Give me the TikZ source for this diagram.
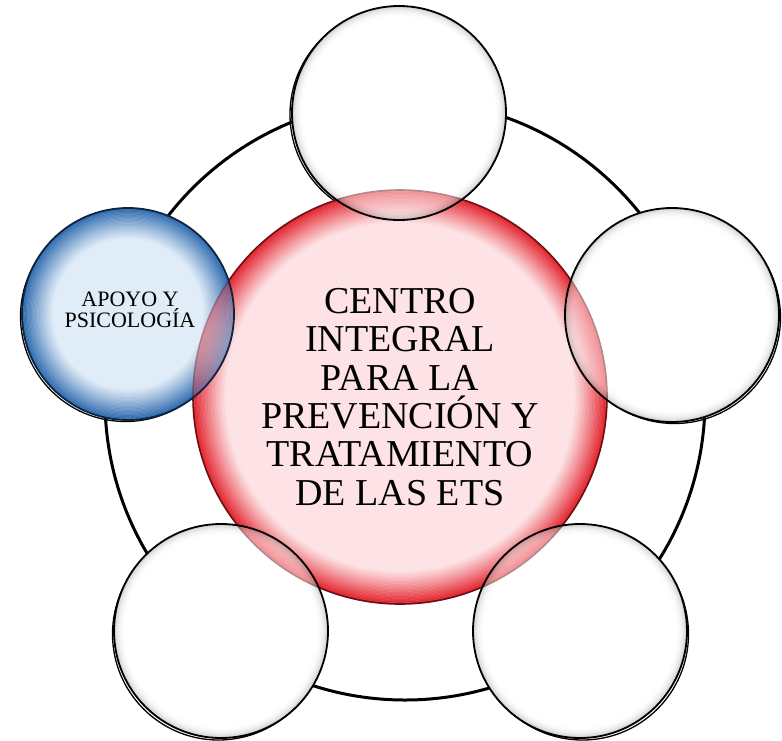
\documentclass[tikz,border=0pt]{standalone}
\usepackage{fontspec}
\setmainfont{Liberation Serif}
\definecolor{rcen}{HTML}{FDE3E5}
\definecolor{redge}{HTML}{E3222D}
\definecolor{rline}{HTML}{6A1212}
\definecolor{bcen}{HTML}{E0ECF7}
\definecolor{bedge}{HTML}{2D6AAE}
\definecolor{bline}{HTML}{0F2440}
\definecolor{wrim}{HTML}{8E8E8E}
\newcommand\drawball[6]{% #1 centre, #2 radius, #3 edge colour, #4 centre colour, #5 band, #6 exponent
  \fill[#4] (#1) circle[radius=#2];
  \foreach \i in {0,...,24} {
    \pgfmathsetmacro\rr{#2-(\i+0.5)*#5/25}
    \pgfmathsetmacro\mix{100*(1-\i/24)^#6}
    \draw[line width=#5/25*1.2, draw=#3!\mix!#4] (#1) circle[radius=\rr];
  }
}
\tikzset{
  ringline/.style={line width=3pt, black},
  shadowline/.style={line width=1.3pt, black},
  redstyle/.style={circle, inner sep=0pt, outer sep=0pt, minimum size=414pt, draw=rline, line width=1.6pt, align=center, font=\fontsize{38}{38.3}\selectfont},
  glass/.style={circle, inner sep=0pt, outer sep=0pt, minimum size=214pt, draw=black, line width=1.8pt},
  bluestyle/.style={circle, inner sep=0pt, outer sep=0pt, minimum size=212pt, draw=bline, line width=1.8pt},
  smalltext/.style={font=\fontsize{22}{21}\selectfont, align=center, inner sep=0pt}
}
\begin{document}
\begin{tikzpicture}[x=1pt,y=-1pt]
\useasboundingbox (0,0) rectangle (782,740);
\coordinate (ctr) at (400,397);
\coordinate (ringc) at (405,400);
\coordinate (pT) at (399,113);
\coordinate (pR) at (672,315);
\coordinate (pBR) at (580,631);
\coordinate (pBL) at (221,631);
\coordinate (pL) at (128,314);
% ring
\draw[ringline] (ringc) circle[radius=300];
% shadow outlines
\draw[shadowline] ([shift={(-3,1.5)}]pT) circle[radius=106];
\draw[shadowline] ([shift={(2.5,2.5)}]pR) circle[radius=106];
\draw[shadowline] ([shift={(2.5,3)}]pBR) circle[radius=106];
\draw[shadowline] ([shift={(-2.5,3)}]pBL) circle[radius=106];
\draw[shadowline] ([shift={(-2.5,2.5)}]pL) circle[radius=105];
% opaque bases
\foreach \p in {pT,pR,pBR,pBL} \fill[white] (\p) circle[radius=107];
\drawball{pL}{106}{bedge}{bcen}{32}{1.1}
% centre
\drawball{ctr}{207}{redge}{rcen}{34}{1.1}
\node[redstyle] (centre) at (ctr) {CENTRO\\INTEGRAL\\PARA LA\\PREVENCIÓN Y\\TRATAMIENTO\\DE LAS ETS};
% glass overlays
\foreach \p in {pT,pR,pBR,pBL} {
  \begin{scope}[transparency group, opacity=0.5]
    \drawball{\p}{107}{wrim}{white}{12}{2.2}
  \end{scope}
}
\node[glass] (top) at (pT) {};
\node[glass] (right) at (pR) {};
\node[glass] (botright) at (pBR) {};
\node[glass] (botleft) at (pBL) {};
\begin{scope}[transparency group, opacity=0.55]
  \drawball{pL}{106}{bedge}{bcen}{32}{1.1}
\end{scope}
\node[bluestyle] (apoyo) at (pL) {};
\node[smalltext] (apoyotext) at (130,310) {APOYO Y\\PSICOLOGÍA};
\end{tikzpicture}
\end{document}
